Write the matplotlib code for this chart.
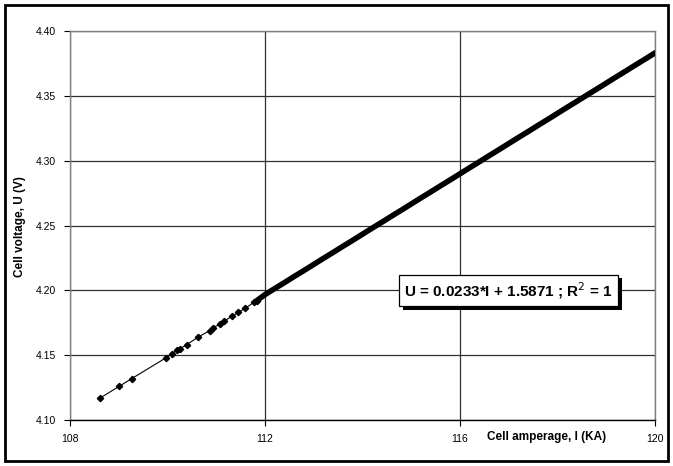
import matplotlib
matplotlib.use("Agg")
import matplotlib.pyplot as plt
import matplotlib.patheffects as pe
from matplotlib.patches import Rectangle

# measured cell amperage (KA) and cell voltage (V)
amperage = [108.62, 109.01, 109.27, 109.97, 110.09, 110.20, 110.26, 110.39,
            110.63, 110.87, 110.93, 111.08, 111.15, 111.32, 111.45, 111.59,
            111.78, 111.83,
            112.0, 112.2, 112.4, 112.6, 112.8, 113.0, 113.2, 113.4, 113.6,
            113.8, 114.0, 114.2, 114.4, 114.6, 114.8, 115.0, 115.2, 115.4,
            115.6, 115.8, 116.0, 116.2, 116.4, 116.6, 116.8, 117.0, 117.2,
            117.4, 117.6, 117.8, 118.0, 118.2, 118.4, 118.6, 118.8, 119.0,
            119.2, 119.4, 119.6, 119.8, 120.0]
voltage = [4.117, 4.126, 4.132, 4.148, 4.151, 4.154, 4.155, 4.158,
           4.164, 4.169, 4.171, 4.174, 4.176, 4.180, 4.183, 4.186,
           4.191, 4.192,
           4.1967, 4.2014, 4.2060, 4.2107, 4.2153, 4.2200, 4.2247, 4.2293,
           4.2340, 4.2386, 4.2433, 4.2480, 4.2526, 4.2573, 4.2619, 4.2666,
           4.2713, 4.2759, 4.2806, 4.2852, 4.2899, 4.2946, 4.2992, 4.3039,
           4.3085, 4.3132, 4.3179, 4.3225, 4.3272, 4.3318, 4.3365, 4.3412,
           4.3458, 4.3505, 4.3551, 4.3598, 4.3645, 4.3691, 4.3738, 4.3784,
           4.3831]
n_sparse = 18  # first readings are spread out, the rest are packed tightly

x_ticks = [108, 112, 116, 120]
y_ticks = [4.10, 4.15, 4.20, 4.25, 4.30, 4.35, 4.40]
equation = "U = 0.0233*I + 1.5871 ; R$^{2}$ = 1"

plt.rcParams["font.family"] = ["Liberation Sans", "DejaVu Sans"]

fig = plt.figure(figsize=(6.73, 4.66), dpi=100)
ax = fig.add_axes([70 / 673, 1 - 420 / 466, 585 / 673, 389 / 466])

ax.plot(amperage, voltage, color="black", lw=0.8, marker="D",
        markersize=3.2, markevery=list(range(n_sparse)), zorder=3)
# dense block of readings merges into a thick band
ax.plot(amperage[n_sparse - 1:], voltage[n_sparse - 1:], color="black",
        lw=4.0, solid_capstyle="round", zorder=3)

ax.set_xlim(108, 120)
ax.set_ylim(4.10, 4.40)
ax.set_xticks(x_ticks)
ax.set_yticks(y_ticks)
ax.set_xticklabels([str(t) for t in x_ticks])
ax.set_yticklabels([f"{t:.2f}" for t in y_ticks])
ax.tick_params(direction="out", length=4, width=0.8, labelsize=7.5,
               colors="black", pad=6)
ax.grid(True, color="#303030", lw=0.9)
ax.set_axisbelow(True)
for side in ("left", "top", "right"):
    ax.spines[side].set_color("#808080")
    ax.spines[side].set_linewidth(1.0)
ax.spines["bottom"].set_color("black")
ax.spines["bottom"].set_linewidth(1.0)

fig.text(20 / 673, 1 - 227 / 466, "Cell voltage, U (V)", rotation=90,
         ha="center", va="center", fontsize=8.5, fontweight="bold")
fig.text(547 / 673, 1 - 437 / 466, "Cell amperage, I (KA)",
         ha="center", va="center", fontsize=8.5, fontweight="bold")

# trendline equation box with a drop shadow
eq = ax.text(117.0, 4.2, equation, ha="center", va="center", fontsize=11,
             fontweight="bold",
             bbox=dict(boxstyle="square,pad=0.35", fc="white", ec="black",
                       lw=0.9),
             zorder=5)
eq.get_bbox_patch().set_path_effects([
    pe.SimplePatchShadow(offset=(2.5, -2.5), shadow_rgbFace="black",
                         alpha=1.0),
    pe.Normal(),
])

fig.patches.append(Rectangle((5 / 673, 5 / 466), 663 / 673, 456 / 466,
                             transform=fig.transFigure, fill=False,
                             ec="black", lw=2))

fig.savefig("out.png", dpi=100)
